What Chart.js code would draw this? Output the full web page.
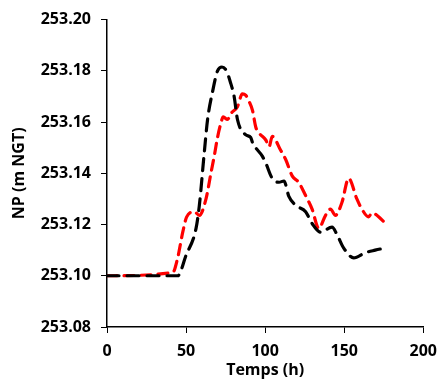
<!DOCTYPE html>
<html>
<head>
<meta charset="utf-8">
<script src="https://cdn.jsdelivr.net/npm/chart.js@4"></script>
<style>
  html, body { margin: 0; padding: 0; background: #fff; }
  #wrap { width: 446px; height: 385px; }
</style>
</head>
<body>
<div id="wrap"><canvas id="myChart" width="446" height="385"></canvas></div>
<script>
// temps (h) et niveau piezometrique (m NGT)
const timeBlack = [0, 44.7, 50, 56.3, 58.4, 61.5, 63.6, 66.8, 69.9, 72.7, 75.5, 78.3, 80.4, 82.5, 87.8, 90.9, 92, 98.2, 100.4, 104.5, 108.8, 111.9, 115, 119.3, 125.6, 129.7, 135, 142.3, 145.5, 149.7, 156, 163.3, 169.6, 177];
const npBlack = [253.100, 253.100, 253.108, 253.1185, 253.1275, 253.148, 253.161, 253.172, 253.180, 253.1815, 253.180, 253.175, 253.170, 253.161, 253.155, 253.154, 253.152, 253.1467, 253.144, 253.138, 253.1365, 253.137, 253.131, 253.1275, 253.125, 253.1204, 253.117, 253.119, 253.116, 253.1108, 253.107, 253.109, 253.110, 253.111];

const timeRed = [0, 41.6, 44.7, 47.9, 50.4, 55.2, 58.4, 62.6, 65.7, 67.8, 69.9, 72, 73.5, 76.2, 78.3, 82.5, 85.6, 87.8, 89.9, 92, 94.1, 96.2, 100.4, 102.5, 104.5, 109.8, 113, 117.1, 121.3, 125.6, 129.7, 133.9, 138.2, 141.3, 144.5, 148.6, 152.8, 158, 161.2, 165.4, 167.5, 177];
const npRed = [253.100, 253.1013, 253.107, 253.117, 253.123, 253.125, 253.1236, 253.130, 253.140, 253.1467, 253.154, 253.1595, 253.162, 253.161, 253.1633, 253.166, 253.171, 253.1704, 253.168, 253.1646, 253.158, 253.1557, 253.153, 253.1504, 253.1544, 253.149, 253.1454, 253.139, 253.1364, 253.1313, 253.126, 253.1185, 253.1236, 253.126, 253.1236, 253.1287, 253.138, 253.130, 253.126, 253.123, 253.1245, 253.120];

const xTicks = [0, 50, 100, 150, 200];
const yTicks = [253.08, 253.10, 253.12, 253.14, 253.16, 253.18, 253.20];

const pts = (xs, ys) => xs.map((x, i) => ({ x, y: ys[i] }));
const boldFont = { family: "'Open Sans', sans-serif", size: 16, weight: 'bold' };

const ctx = document.getElementById('myChart').getContext('2d');
// eslint-disable-next-line no-new
new Chart(ctx, {
  type: 'line',
  data: {
    datasets: [{
      label: 'noir',
      data: pts(timeBlack, npBlack),
      borderColor: '#000000',
      borderWidth: 3.2,
      borderDash: [12, 8],
      borderCapStyle: 'round',
      pointRadius: 0,
      cubicInterpolationMode: 'monotone',
    }, {
      label: 'rouge',
      data: pts(timeRed, npRed),
      borderColor: '#FF0000',
      borderWidth: 3.2,
      borderDash: [10, 7],
      borderCapStyle: 'round',
      pointRadius: 0,
      cubicInterpolationMode: 'monotone',
    }],
  },
  options: {
    responsive: false,
    animation: false,
    layout: { padding: { top: 15, right: 21, bottom: 0, left: 0 } },
    plugins: { legend: { display: false }, tooltip: { enabled: false } },
    scales: {
      x: {
        type: 'linear',
        min: 0,
        max: 200,
        afterBuildTicks: (s) => { s.ticks = xTicks.map((v) => ({ value: v })); },
        afterFit: (s) => { s.height = 58; },
        grid: { drawOnChartArea: false, drawTicks: true, tickLength: 6, color: '#000' },
        border: { color: '#000', width: 1.5 },
        ticks: { color: '#000', font: boldFont, padding: 9, maxRotation: 0 },
        title: { display: true, text: 'Temps (h)', color: '#000', font: boldFont, padding: { top: 0, bottom: 5 } },
      },
      y: {
        min: 253.08,
        max: 253.20,
        afterBuildTicks: (s) => { s.ticks = yTicks.map((v) => ({ value: v })); },
        afterFit: (s) => { s.width = 107; },
        grid: { drawOnChartArea: false, drawTicks: true, tickLength: 6, color: '#000' },
        border: { color: '#000', width: 1.5 },
        ticks: { color: '#000', font: boldFont, padding: 10, callback: (v) => v.toFixed(2) },
        title: { display: true, text: 'NP (m NGT)', color: '#000', font: boldFont, padding: { top: 10, bottom: 0 } },
      },
    },
  },
});
</script>
</body>
</html>
